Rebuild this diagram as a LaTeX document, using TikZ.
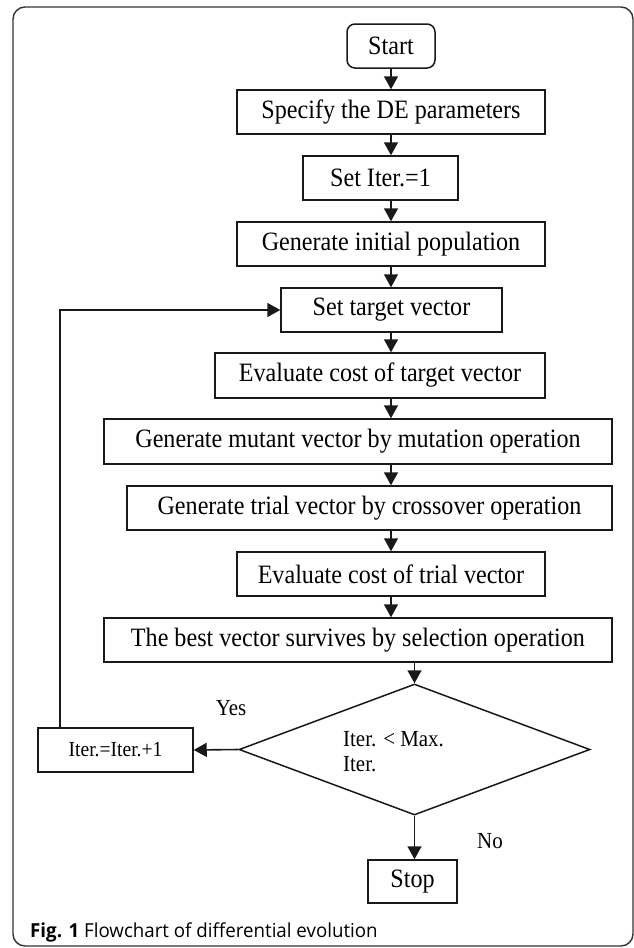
\documentclass[tikz,border=0pt]{standalone}
\usepackage{fontspec}
\setmainfont[FakeStretch=0.91]{Liberation Serif}
\newfontfamily\capfont[FakeStretch=0.97]{Open Sans}
\usetikzlibrary{arrows.meta,shapes.geometric,calc}
\begin{document}
\begin{tikzpicture}[x=1pt,y=-1pt,
  box/.style={draw=black!90,line width=1.5pt,inner sep=0pt,minimum height=44pt,font=\fontsize{26.5}{30}\selectfont},
  arr/.style={line width=1.6pt,draw=black!90,-{Triangle[length=13pt,width=14pt]}},
  lbl/.style={inner sep=0pt,font=\fontsize{23}{26}\selectfont}]
\useasboundingbox (0,0) rectangle (634,948);
\draw[line width=1.4pt,draw=black!80,rounded corners=12pt] (13,7) rectangle (633,946);
\node[box,rounded corners=8pt,minimum width=88pt] (start) at (391,46) {Start};
\node[box,minimum width=308pt] (spec) at (391,112) {Specify the DE parameters};
\node[box,minimum width=155pt] (seti) at (380.5,178) {Set Iter.=1};
\node[box,minimum width=308pt] (gen) at (391,244) {Generate initial population};
\node[box,minimum width=221pt] (target) at (391.5,310) {Set target vector};
\node[box,minimum width=330pt,minimum height=45pt] (evt) at (380,375.5) {Evaluate cost of target vector};
\node[box,minimum width=508pt,minimum height=45pt] (mut) at (358,441.5) {Generate mutant vector by mutation operation};
\node[box,minimum width=485pt] (trial) at (369.5,508) {Generate trial vector by crossover operation};
\node[box,minimum width=308pt] (evtr) at (391,574) {Evaluate cost of trial vector};
\node[box,minimum width=508pt] (best) at (358,640) {The best vector survives by selection operation};
\node[draw=black!90,line width=1.5pt,diamond,minimum width=351pt,minimum height=131pt,inner sep=0pt] (dec) at (414.5,749.5) {};
\node[lbl,anchor=west,align=left] (dtext) at (343,752) {Iter. < Max.\\[-1pt]Iter.};
\node[box,minimum width=155pt,font=\fontsize{21.5}{24}\selectfont] (iter) at (115.5,750) {Iter.=Iter.+1};
\node[box,minimum width=89pt,minimum height=43pt] (stop) at (412.5,881.5) {Stop};
\node[lbl] (yes) at (231,708) {Yes};
\node[lbl] (no) at (490,841) {No};
\draw[arr] (start.south) -- (start.south |- spec.north);
\draw[arr] (spec.south) -- (spec.south |- seti.north);
\draw[arr] (spec.south |- seti.south) -- (spec.south |- gen.north);
\draw[arr] (gen.south) -- (gen.south |- target.north);
\draw[arr] (gen.south |- target.south) -- (gen.south |- evt.north);
\draw[arr] (gen.south |- evt.south) -- (gen.south |- mut.north);
\draw[arr] (gen.south |- mut.south) -- (gen.south |- trial.north);
\draw[arr] (gen.south |- trial.south) -- (gen.south |- evtr.north);
\draw[arr] (evtr.south) -- (evtr.south |- best.north);
\draw[arr] (dec.north |- best.south) -- (dec.north);
\draw[arr] (dec.west) -- (iter.east);
\draw[arr] (dec.south) -- (dec.south |- stop.north);
\coordinate (loop) at ($(iter.north west)+(23,0)$);
\draw[arr] (loop) |- (target.west);
\node[anchor=base west,inner sep=0pt,font=\capfont\fontsize{19.3}{22}\selectfont] (cap) at (30,937) {\textbf{Fig. 1} Flowchart of differential evolution};
\end{tikzpicture}
\end{document}
